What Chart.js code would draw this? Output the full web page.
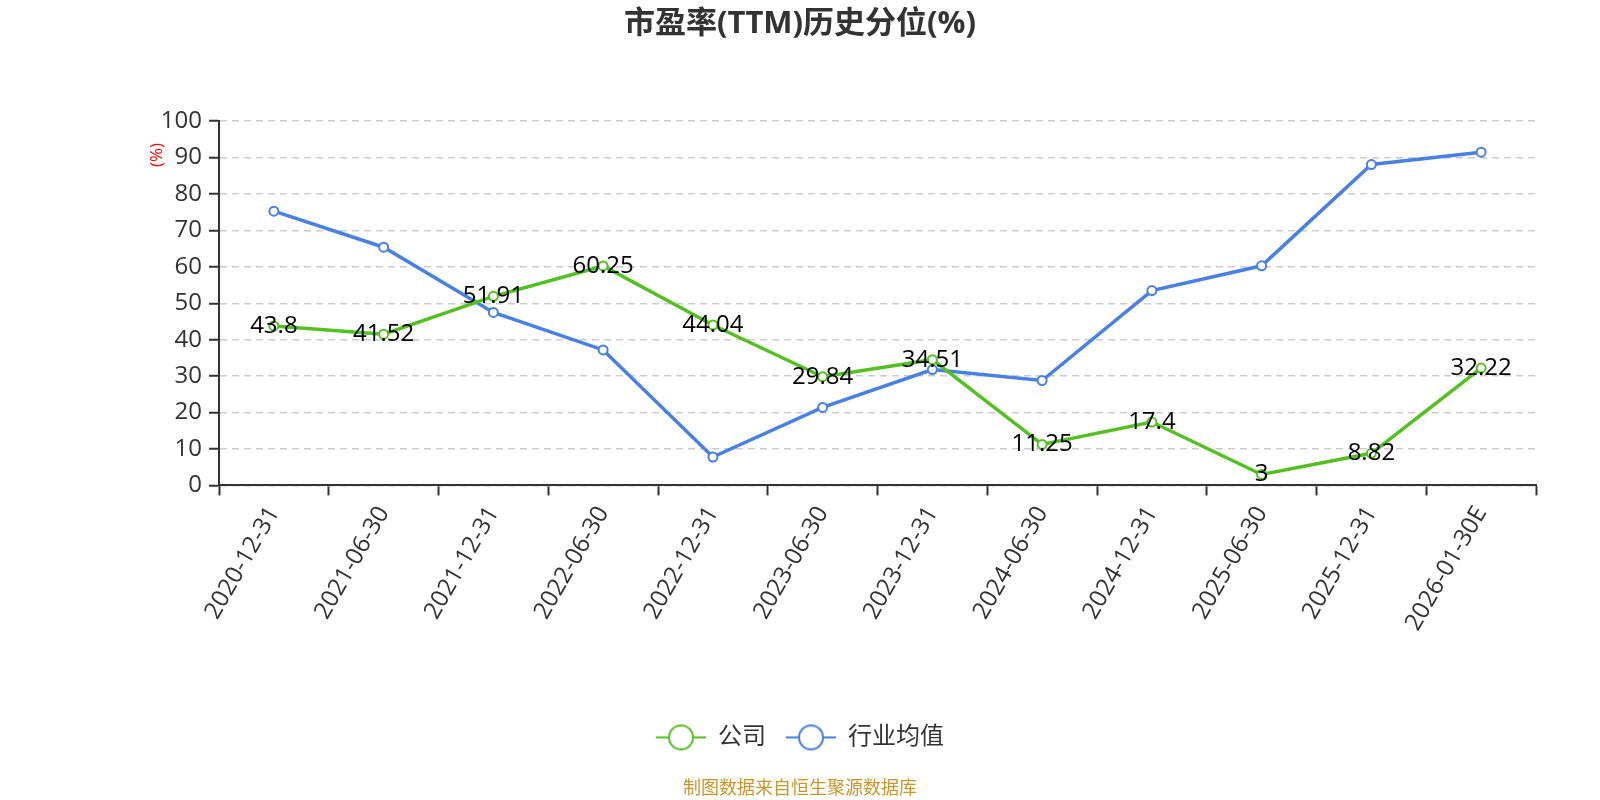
<!DOCTYPE html>
<html>
<head>
<meta charset="utf-8">
<script src="https://cdn.jsdelivr.net/npm/chart.js@4/dist/chart.umd.min.js"></script>
<style>
  body { margin: 0; background: #fff; }
  #wrap { width: 1600px; height: 800px; }
</style>
</head>
<body>
<div id="wrap"><canvas id="peChart"></canvas></div>
<script>
const dates = ['2020-12-31', '2021-06-30', '2021-12-31', '2022-06-30', '2022-12-31', '2023-06-30',
  '2023-12-31', '2024-06-30', '2024-12-31', '2025-06-30', '2025-12-31', '2026-01-30E'];
const companyPct = [43.8, 41.52, 51.91, 60.25, 44.04, 29.84, 34.51, 11.25, 17.4, 3, 8.82, 32.22];
const industryPct = [75.3, 65.4, 47.5, 37.2, 7.8, 21.4, 31.8, 28.8, 53.5, 60.3, 88.1, 91.5];
const seriesNames = ['公司', '行业均值'];

const GREEN = '#55c022';
const BLUE = '#4880e4';
const FONT = '"Open Sans", "Noto Sans CJK SC", sans-serif';

Chart.defaults.font.family = FONT;
Chart.defaults.color = '#333';

// legend marker: short line with a hollow circle
function legendMarker(color) {
  const c = document.createElement('canvas');
  c.width = 50; c.height = 28;
  const g = c.getContext('2d');
  g.strokeStyle = color;
  g.lineWidth = 2;
  g.beginPath(); g.moveTo(0, 14); g.lineTo(50, 14); g.stroke();
  g.beginPath(); g.arc(25, 14, 12, 0, Math.PI * 2);
  g.fillStyle = '#fff'; g.fill(); g.stroke();
  return c;
}
const markers = [legendMarker(GREEN), legendMarker(BLUE)];

// value labels on the company line + the red "(%)" axis note
const extras = {
  id: 'extras',
  afterDatasetsDraw(chart) {
    const ctx = chart.ctx;
    const meta = chart.getDatasetMeta(0);
    ctx.save();
    ctx.font = '24px ' + FONT;
    ctx.fillStyle = '#000';
    ctx.textAlign = 'center';
    ctx.textBaseline = 'middle';
    meta.data.forEach((pt, i) => {
      ctx.fillText(String(companyPct[i]), pt.x, pt.y);
    });
    ctx.restore();
  },
  afterDraw(chart) {
    const ctx = chart.ctx;
    ctx.save();
    ctx.translate(157, 155);
    ctx.rotate(-Math.PI / 2);
    ctx.font = '17px ' + FONT;
    ctx.fillStyle = '#ff0000';
    ctx.textAlign = 'center';
    ctx.textBaseline = 'middle';
    ctx.fillText('(%)', 0, 0);
    ctx.restore();
  }
};

const lineStyle = (color) => ({
  borderColor: color,
  backgroundColor: '#fff',
  borderWidth: 3.5,
  pointRadius: 4.5,
  pointBorderWidth: 2,
  pointBackgroundColor: '#fff',
  pointBorderColor: color,
  tension: 0
});

new Chart(document.getElementById('peChart'), {
  type: 'line',
  data: {
    labels: dates,
    datasets: [
      Object.assign({ label: seriesNames[0], data: companyPct }, lineStyle(GREEN)),
      Object.assign({ label: seriesNames[1], data: industryPct }, lineStyle(BLUE))
    ]
  },
  options: {
    responsive: true,
    maintainAspectRatio: false,
    animation: false,
    events: [],
    layout: { padding: 0 },
    scales: {
      x: {
        offset: true,
        grid: { offset: true, drawOnChartArea: false, drawTicks: true, tickLength: 10, tickColor: '#333', tickWidth: 2 },
        border: { color: '#333', width: 2 },
        ticks: { autoSkip: false, minRotation: 60, maxRotation: 60, color: '#333', font: { size: 24 }, padding: 6 },
        afterFit(s) { s.height = 220; }
      },
      y: {
        min: 0,
        max: 100,
        ticks: { stepSize: 10, color: '#333', font: { size: 24 }, padding: 7 },
        grid: { color: '#cccccc', lineWidth: 1.5, tickLength: 10, tickColor: '#333', tickWidth: 2, tickBorderDash: [] },
        border: { color: '#333', width: 2, dash: [7, 5] },
        afterFit(s) { s.width = 219; }
      },
      // empty right-hand spacer so the plot ends where the reference does
      yRight: {
        position: 'right',
        min: 0,
        max: 100,
        ticks: { display: false },
        grid: { display: false, drawTicks: false },
        border: { display: false },
        afterFit(s) { s.width = 64; }
      }
    },
    plugins: {
      title: {
        display: true,
        text: '市盈率(TTM)历史分位(%)',
        color: '#333',
        font: { size: 31, weight: 'bold' },
        padding: { top: 6, bottom: 78 }
      },
      subtitle: {
        display: true,
        position: 'bottom',
        text: '制图数据来自恒生聚源数据库',
        color: '#c8962e',
        font: { size: 18 },
        padding: { top: 19, bottom: 0 }
      },
      legend: {
        position: 'bottom',
        labels: {
          usePointStyle: true,
          pointStyleWidth: 50,
          padding: 20,
          color: '#333',
          font: { size: 24 },
          generateLabels(chart) {
            return chart.data.datasets.map((ds, i) => ({
              text: ds.label,
              pointStyle: markers[i],
              fontColor: '#333',
              datasetIndex: i,
              hidden: false,
              lineWidth: 0
            }));
          }
        }
      },
      tooltip: { enabled: false }
    }
  },
  plugins: [extras]
});
</script>
</body>
</html>
